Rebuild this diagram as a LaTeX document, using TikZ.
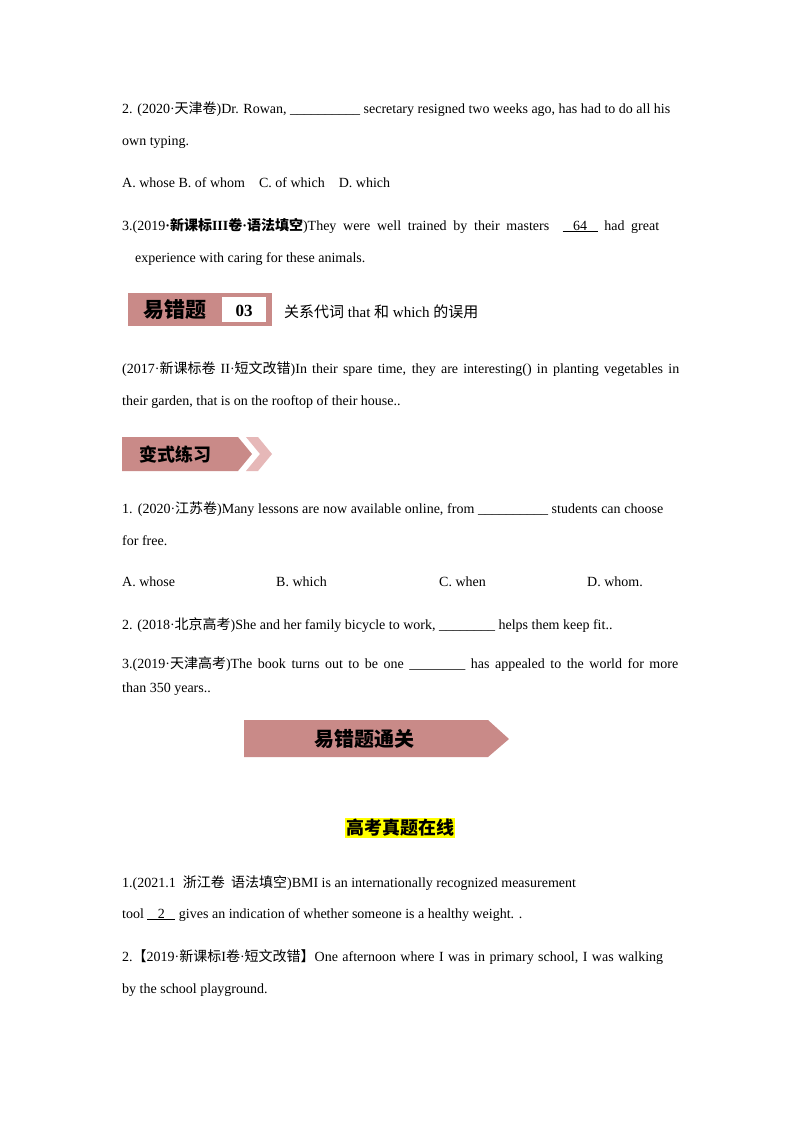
\documentclass[tikz,border=0pt]{standalone}
\usepackage{fontspec}
\setmainfont{Liberation Serif}
\newfontfamily\cjk{Noto Sans CJK SC}
\newcommand{\zh}[1]{{\cjk #1}}
\newcommand{\jl}[2]{\makebox[#1][s]{#2}}
\definecolor{pinkb}{HTML}{C98A88}
\definecolor{pinkl}{HTML}{E6B8B8}
\definecolor{hl}{HTML}{FFFF00}
\tikzset{txt/.style={anchor=base west,inner sep=0pt,font=\fontsize{14}{16}\selectfont}}
\begin{document}
\begin{tikzpicture}[x=1pt,y=-1pt]
\useasboundingbox[fill=white] (0,0) rectangle (800,1132);
\node[txt] (l1) at (122,113) {\jl{548pt}{2. (2020·\zh{天津卷})Dr. Rowan, \_\_\_\_\_\_\_\_\_\_ secretary resigned two weeks ago, has had to do all his}};
\node[txt] (l2) at (122,145) {own typing.};
\node[txt] (l3) at (122,187) {A. whose B. of whom\quad C. of which\quad D. which};
\node[txt] (l4) at (122,230) {\jl{537pt}{3.(2019\textbf{·}\zh{\textbf{新课标}}\textbf{III}\zh{\textbf{卷}}\textbf{·}\zh{\textbf{语法填空}})They were well trained by their masters \ \underline{\ \ \ 64\ \ \ } had great}};
\node[txt] (l5) at (135,262) {experience with caring for these animals.};
% banner 1
\fill[pinkb] (128,293) rectangle (272,326);
\fill[white] (222,297) rectangle (266,322);
\node[inner sep=0pt,font=\cjk\bfseries\fontsize{21}{21}\selectfont] (b1) at (175,310) {易错题};
\node[inner sep=0pt,font=\bfseries\fontsize{17}{17}\selectfont] (b1n) at (244,311) {03};
\node[txt,font=\fontsize{15}{16}\selectfont] (b1t) at (284,317) {\zh{关系代词} that \zh{和} which \zh{的误用}};
\node[txt] (l6) at (122,373) {\jl{557pt}{(2017·\zh{新课标卷} II·\zh{短文改错})In their spare time, they are interesting() in planting vegetables in}};
\node[txt] (l7) at (122,405) {their garden, that is on the rooftop of their house..};
% banner 2
\fill[pinkb] (122,437) -- (238,437) -- (252,454) -- (238,471) -- (122,471) -- cycle;
\fill[pinkl] (246,437) -- (258,437) -- (272,454) -- (258,471) -- (246,471) -- (260,454) -- cycle;
\node[inner sep=0pt,font=\cjk\bfseries\fontsize{18}{18}\selectfont] (b2) at (175,455) {变式练习};
\node[txt] (l8) at (122,513) {\jl{541pt}{1. (2020·\zh{江苏卷})Many lessons are now available online, from \_\_\_\_\_\_\_\_\_\_ students can choose}};
\node[txt] (l9) at (122,545) {for free.};
\node[txt] (a1) at (122,586) {A. whose};
\node[txt] (a2) at (276,586) {B. which};
\node[txt] (a3) at (439,586) {C. when};
\node[txt] (a4) at (587,586) {D. whom.};
\node[txt] (l10) at (122,629) {2. (2018·\zh{北京高考})She and her family bicycle to work, \_\_\_\_\_\_\_\_ helps them keep fit..};
\node[txt] (l11) at (122,668) {\jl{556pt}{3.(2019·\zh{天津高考})The book turns out to be one \_\_\_\_\_\_\_\_ has appealed to the world for more}};
\node[txt] (l12) at (122,692) {than 350 years..};
% banner 3
\fill[pinkb] (244,720) -- (488,720) -- (509,739) -- (488,757) -- (244,757) -- cycle;
\node[inner sep=0pt,font=\cjk\bfseries\fontsize{20}{20}\selectfont] (b3) at (364,739) {易错题通关};
\node[fill=hl,inner sep=1pt,font=\cjk\bfseries\fontsize{18}{18}\selectfont] (h) at (400,828) {高考真题在线};
\node[txt] (l13) at (122,887) {1.(2021.1\ \ \zh{浙江卷\ \ 语法填空})BMI is an internationally recognized measurement};
\node[txt] (l14) at (122,918) {tool \underline{\ \ \ 2\ \ \ } gives an indication of whether someone is a healthy weight. .};
\node[txt] (l15) at (122,961) {\jl{541pt}{2.\zh{【}2019·\zh{新课标}I\zh{卷}·\zh{短文改错】}One afternoon where I was in primary school, I was walking}};
\node[txt] (l16) at (122,993) {by the school playground.};
\end{tikzpicture}
\end{document}
